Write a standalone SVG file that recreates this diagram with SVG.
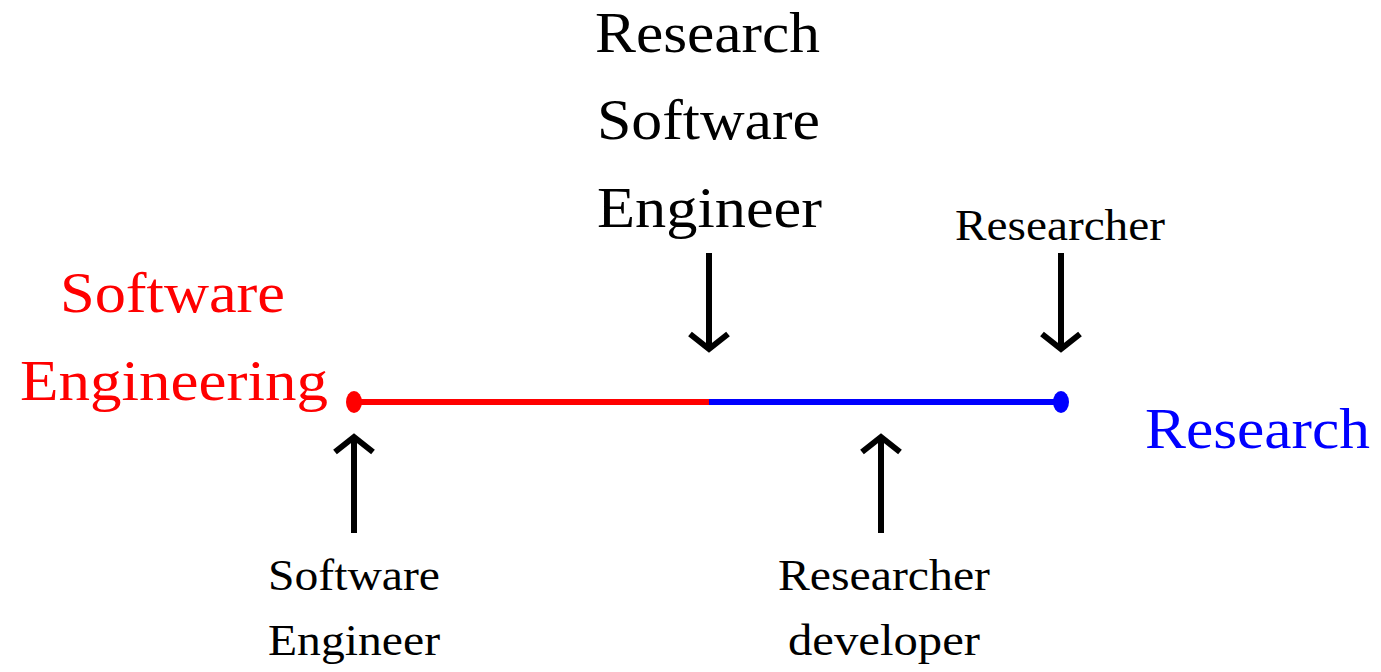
<svg xmlns="http://www.w3.org/2000/svg" width="1381" height="672" viewBox="0 0 1381 672">
<style>
text{font-family:"Liberation Serif","DejaVu Serif",serif;}
.big{font-size:56px;}
.small{font-size:45px;}
.blk{fill:#000;}
.red{fill:#ff0000;}
.blue{fill:#0000ff;}
.arrow{stroke:#000;stroke-width:6;fill:none;stroke-linecap:butt;stroke-linejoin:miter;}
</style>
<rect width="1381" height="672" fill="#fff"/>
<g id="connectors">
<line x1="354" y1="402" x2="709" y2="402" stroke="#ff0000" stroke-width="6"/>
<line x1="709" y1="402" x2="1061" y2="402" stroke="#0000ff" stroke-width="6"/>
<ellipse cx="354" cy="402" rx="8" ry="11" fill="#ff0000"/>
<ellipse cx="1061" cy="402" rx="8" ry="11" fill="#0000ff"/>
<g id="arrow-rse"><line class="arrow" x1="709" y1="253" x2="709" y2="348"/><polyline class="arrow" points="690,334 709,349 728,334"/></g>
<g id="arrow-researcher"><line class="arrow" x1="1061" y1="253" x2="1061" y2="348"/><polyline class="arrow" points="1042,334 1061,349 1080,334"/></g>
<g id="arrow-se"><line class="arrow" x1="354" y1="533" x2="354" y2="438"/><polyline class="arrow" points="335,452 354,437 373,452"/></g>
<g id="arrow-rd"><line class="arrow" x1="881" y1="533" x2="881" y2="438"/><polyline class="arrow" points="862,452 881,437 900,452"/></g>
</g>
<g id="rse-label" class="big blk">
<text x="595" y="52" textLength="225" lengthAdjust="spacingAndGlyphs">Research</text>
<text x="597" y="139" textLength="223" lengthAdjust="spacingAndGlyphs">Software</text>
<text x="597" y="227" textLength="225" lengthAdjust="spacingAndGlyphs">Engineer</text>
</g>
<g id="researcher-label" class="small blk">
<text x="955" y="240" textLength="210" lengthAdjust="spacingAndGlyphs">Researcher</text>
</g>
<g id="se-end" class="big red">
<text x="60" y="312" textLength="225" lengthAdjust="spacingAndGlyphs">Software</text>
<text x="20" y="400" textLength="308" lengthAdjust="spacingAndGlyphs">Engineering</text>
</g>
<g id="research-end" class="big blue">
<text x="1145" y="448" textLength="225" lengthAdjust="spacingAndGlyphs">Research</text>
</g>
<g id="software-engineer-label" class="small blk">
<text x="268" y="590" textLength="172" lengthAdjust="spacingAndGlyphs">Software</text>
<text x="268" y="655" textLength="172" lengthAdjust="spacingAndGlyphs">Engineer</text>
</g>
<g id="researcher-developer-label" class="small blk">
<text x="778" y="590" textLength="212" lengthAdjust="spacingAndGlyphs">Researcher</text>
<text x="788" y="655" textLength="192" lengthAdjust="spacingAndGlyphs">developer</text>
</g>
</svg>
